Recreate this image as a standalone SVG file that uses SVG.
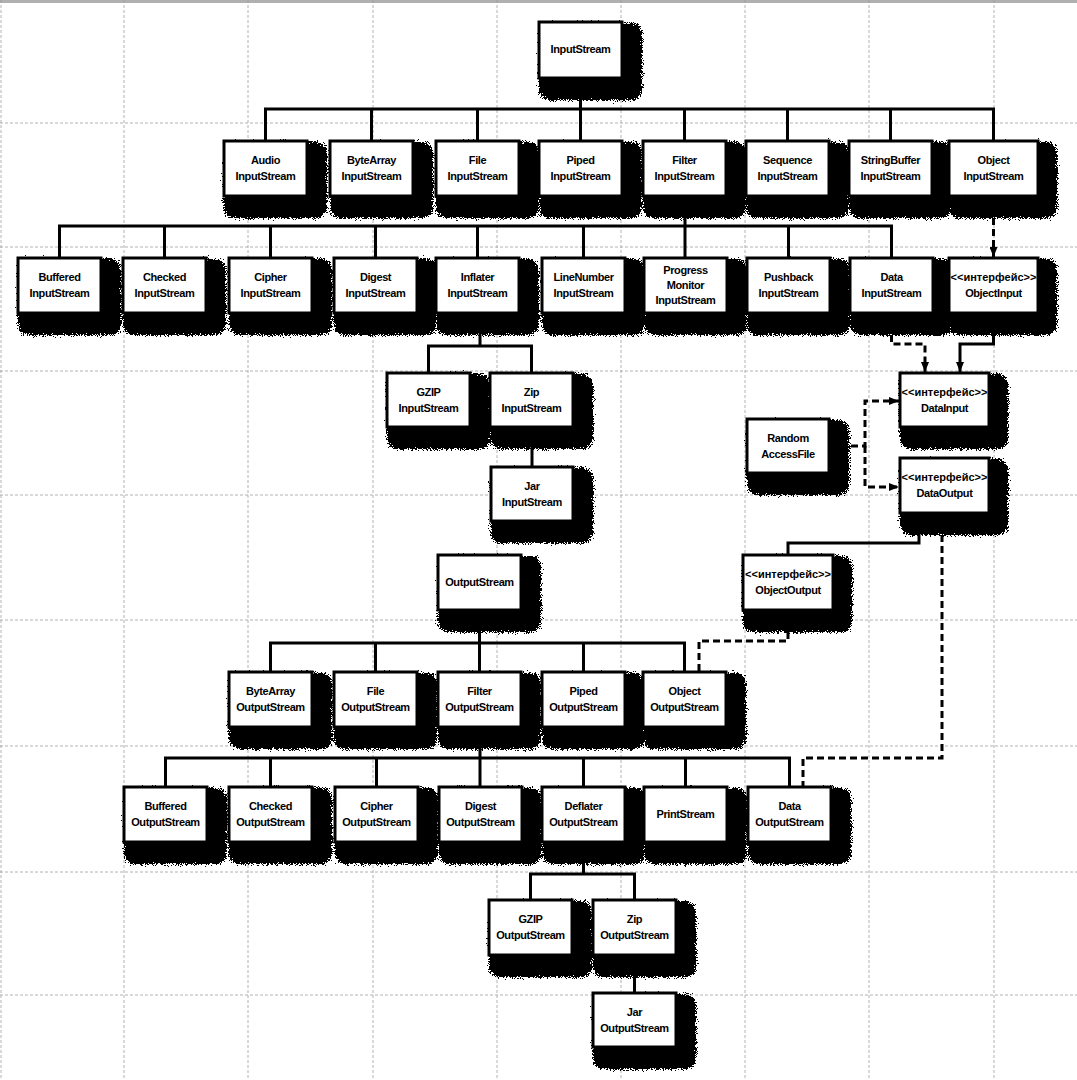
<svg xmlns="http://www.w3.org/2000/svg" width="1077" height="1080" viewBox="0 0 1077 1080">
<defs>
<filter id="sh" x="-40%" y="-40%" width="180%" height="180%">
<feGaussianBlur in="SourceGraphic" stdDeviation="5.5" result="b"/>
<feTurbulence type="fractalNoise" baseFrequency="1.4" numOctaves="1" seed="7" result="n"/>
<feColorMatrix in="n" type="matrix" values="0 0 0 0 0  0 0 0 0 0  0 0 0 0 0  1 0 0 0 0" result="na"/>
<feComposite in="b" in2="na" operator="arithmetic" k1="0" k2="1.5" k3="-1" k4="0.5" result="m"/>
<feColorMatrix in="m" type="matrix" values="0 0 0 0 0  0 0 0 0 0  0 0 0 0 0  0 0 0 1 0" result="k"/>
<feComponentTransfer in="k"><feFuncA type="discrete" tableValues="0 1"/></feComponentTransfer>
</filter>
<marker id="ah" viewBox="0 0 10 8" refX="10" refY="4" markerWidth="10" markerHeight="8" markerUnits="userSpaceOnUse" orient="auto">
<path d="M0,0 L10,4 L0,8 z" fill="#000"/>
</marker>
</defs>
<style>
.sh{fill:#000;filter:url(#sh);}
.bx{fill:#fff;stroke:#000;stroke-width:3;}
.t{font-family:"Liberation Sans",Arial,sans-serif;font-size:11px;font-weight:bold;letter-spacing:-0.4px;text-anchor:middle;fill:#000;}
.ti{letter-spacing:0px;}
.c{fill:none;stroke:#000;stroke-width:3;}
.d{stroke-dasharray:7 4;}
.a{marker-end:url(#ah);}
.g{stroke:#a0a0a0;stroke-width:0.8;stroke-dasharray:3 2;fill:none;}
</style>
<rect x="0" y="0" width="1077" height="1080" fill="#fff"/>
<rect x="0" y="0" width="1077" height="3" fill="#b0b0b0"/>
<g id="grid">
<path class="g" d="M1,0V1080M124,0V1080M248,0V1080M373,0V1080M497,0V1080M621,0V1080M745,0V1080M869,0V1080M994,0V1080"/>
<path class="g" d="M0,123H1077M0,247H1077M0,371H1077M0,495H1077M0,620H1077M0,746H1077M0,872H1077M0,995H1077"/>
</g>
<g id="connectors">
<path class="c" d="M265.5,141V109H993.5V141M371.5,109V141M477.5,109V141M580.5,78V141M684.5,109V141M787.5,109V141M890.5,109V141"/>
<path class="c" d="M59.5,258V226H891.5V258M164.5,226V258M270.5,226V258M375.5,226V258M477.5,226V258M583.5,226V258M685,196V258M788.5,226V258"/>
<path class="c" d="M480,313V346M428.5,373V346H531.5V373M532,427V467"/>
<path class="c" d="M479.5,610V672M270.5,672V643H684.5V672M375.5,643V672M583.5,643V672"/>
<path class="c" d="M480,727V787M165.5,787V758H789.5V787M270.5,758V787M376.5,758V787M583.5,758V787M685.5,758V787"/>
<path class="c" d="M583.5,842V874M530.5,900V874H634.5V900M634.5,955V993"/>
<path class="c a" d="M993.5,313V344H960V372"/>
<path class="c" d="M919,513V543H788V555"/>
<path class="c d a" d="M993.5,196V257"/>
<path class="c d a" d="M891.5,313V344H925V372"/>
<path class="c d a" d="M829,446H865V401H899"/>
<path class="c d a" d="M865,446V487H899"/>
<path class="c d" d="M942,513V758H803V787"/>
<path class="c d" d="M788,610V641H699V672"/>
</g>
<g id="InputStream"><rect class="sh" x="541" y="25" width="99" height="73"/><rect class="bx" x="539" y="22" width="83" height="56"/><text class="t" x="580.5" y="53">InputStream</text></g>
<g id="AudioInputStream"><rect class="sh" x="226" y="144" width="99" height="72"/><rect class="bx" x="224" y="141" width="83" height="55"/><text class="t" x="265.5" y="164">Audio</text><text class="t" x="265.5" y="180">InputStream</text></g>
<g id="ByteArrayInputStream"><rect class="sh" x="332" y="144" width="99" height="72"/><rect class="bx" x="330" y="141" width="83" height="55"/><text class="t" x="371.5" y="164">ByteArray</text><text class="t" x="371.5" y="180">InputStream</text></g>
<g id="FileInputStream"><rect class="sh" x="438" y="144" width="99" height="72"/><rect class="bx" x="436" y="141" width="83" height="55"/><text class="t" x="477.5" y="164">File</text><text class="t" x="477.5" y="180">InputStream</text></g>
<g id="PipedInputStream"><rect class="sh" x="541" y="144" width="99" height="72"/><rect class="bx" x="539" y="141" width="83" height="55"/><text class="t" x="580.5" y="164">Piped</text><text class="t" x="580.5" y="180">InputStream</text></g>
<g id="FilterInputStream"><rect class="sh" x="645" y="144" width="99" height="72"/><rect class="bx" x="643" y="141" width="83" height="55"/><text class="t" x="684.5" y="164">Filter</text><text class="t" x="684.5" y="180">InputStream</text></g>
<g id="SequenceInputStream"><rect class="sh" x="748" y="144" width="99" height="72"/><rect class="bx" x="746" y="141" width="83" height="55"/><text class="t" x="787.5" y="164">Sequence</text><text class="t" x="787.5" y="180">InputStream</text></g>
<g id="StringBufferInputStream"><rect class="sh" x="851" y="144" width="99" height="72"/><rect class="bx" x="849" y="141" width="83" height="55"/><text class="t" x="890.5" y="164">StringBuffer</text><text class="t" x="890.5" y="180">InputStream</text></g>
<g id="ObjectInputStream"><rect class="sh" x="951" y="144" width="104" height="72"/><rect class="bx" x="949" y="141" width="89" height="55"/><text class="t" x="993.5" y="164">Object</text><text class="t" x="993.5" y="180">InputStream</text></g>
<g id="BufferedInputStream"><rect class="sh" x="20" y="261" width="99" height="72"/><rect class="bx" x="18" y="258" width="83" height="55"/><text class="t" x="59.5" y="281">Buffered</text><text class="t" x="59.5" y="297">InputStream</text></g>
<g id="CheckedInputStream"><rect class="sh" x="125" y="261" width="99" height="72"/><rect class="bx" x="123" y="258" width="83" height="55"/><text class="t" x="164.5" y="281">Checked</text><text class="t" x="164.5" y="297">InputStream</text></g>
<g id="CipherInputStream"><rect class="sh" x="231" y="261" width="99" height="72"/><rect class="bx" x="229" y="258" width="83" height="55"/><text class="t" x="270.5" y="281">Cipher</text><text class="t" x="270.5" y="297">InputStream</text></g>
<g id="DigestInputStream"><rect class="sh" x="336" y="261" width="99" height="72"/><rect class="bx" x="334" y="258" width="83" height="55"/><text class="t" x="375.5" y="281">Digest</text><text class="t" x="375.5" y="297">InputStream</text></g>
<g id="InflaterInputStream"><rect class="sh" x="438" y="261" width="99" height="72"/><rect class="bx" x="436" y="258" width="83" height="55"/><text class="t" x="477.5" y="281">Inflater</text><text class="t" x="477.5" y="297">InputStream</text></g>
<g id="LineNumberInputStream"><rect class="sh" x="544" y="261" width="99" height="72"/><rect class="bx" x="542" y="258" width="83" height="55"/><text class="t" x="583.5" y="281">LineNumber</text><text class="t" x="583.5" y="297">InputStream</text></g>
<g id="ProgressMonitorInputStream"><rect class="sh" x="646" y="261" width="99" height="72"/><rect class="bx" x="644" y="258" width="83" height="55"/><text class="t" x="685.5" y="274">Progress</text><text class="t" x="685.5" y="289">Monitor</text><text class="t" x="685.5" y="304">InputStream</text></g>
<g id="PushbackInputStream"><rect class="sh" x="749" y="261" width="99" height="72"/><rect class="bx" x="747" y="258" width="83" height="55"/><text class="t" x="788.5" y="281">Pushback</text><text class="t" x="788.5" y="297">InputStream</text></g>
<g id="DataInputStream"><rect class="sh" x="852" y="261" width="99" height="72"/><rect class="bx" x="850" y="258" width="83" height="55"/><text class="t" x="891.5" y="281">Data</text><text class="t" x="891.5" y="297">InputStream</text></g>
<g id="ObjectInput"><rect class="sh" x="951" y="261" width="104" height="72"/><rect class="bx" x="949" y="258" width="89" height="55"/><text class="t ti" x="993.5" y="281">&lt;&lt;интерфейс&gt;&gt;</text><text class="t" x="993.5" y="297">ObjectInput</text></g>
<g id="GZIPInputStream"><rect class="sh" x="389" y="376" width="99" height="71"/><rect class="bx" x="387" y="373" width="83" height="54"/><text class="t" x="428.5" y="396">GZIP</text><text class="t" x="428.5" y="412">InputStream</text></g>
<g id="ZipInputStream"><rect class="sh" x="492" y="376" width="99" height="71"/><rect class="bx" x="490" y="373" width="83" height="54"/><text class="t" x="531.5" y="396">Zip</text><text class="t" x="531.5" y="412">InputStream</text></g>
<g id="JarInputStream"><rect class="sh" x="493" y="470" width="98" height="71"/><rect class="bx" x="491" y="467" width="82" height="54"/><text class="t" x="532" y="490">Jar</text><text class="t" x="532" y="506">InputStream</text></g>
<g id="DataInput"><rect class="sh" x="902" y="376" width="104" height="71"/><rect class="bx" x="900" y="373" width="89" height="54"/><text class="t ti" x="944.5" y="396">&lt;&lt;интерфейс&gt;&gt;</text><text class="t" x="944.5" y="412">DataInput</text></g>
<g id="RandomAccessFile"><rect class="sh" x="749" y="422" width="98" height="71"/><rect class="bx" x="747" y="419" width="82" height="54"/><text class="t" x="788" y="442">Random</text><text class="t" x="788" y="458">AccessFile</text></g>
<g id="DataOutput"><rect class="sh" x="902" y="461" width="104" height="72"/><rect class="bx" x="900" y="458" width="89" height="55"/><text class="t ti" x="944.5" y="481">&lt;&lt;интерфейс&gt;&gt;</text><text class="t" x="944.5" y="497">DataOutput</text></g>
<g id="ObjectOutput"><rect class="sh" x="745" y="558" width="105" height="72"/><rect class="bx" x="743" y="555" width="90" height="55"/><text class="t ti" x="788" y="578">&lt;&lt;интерфейс&gt;&gt;</text><text class="t" x="788" y="594">ObjectOutput</text></g>
<g id="OutputStream"><rect class="sh" x="440" y="558" width="99" height="72"/><rect class="bx" x="438" y="555" width="83" height="55"/><text class="t" x="479.5" y="586">OutputStream</text></g>
<g id="ByteArrayOutputStream"><rect class="sh" x="231" y="675" width="99" height="72"/><rect class="bx" x="229" y="672" width="83" height="55"/><text class="t" x="270.5" y="695">ByteArray</text><text class="t" x="270.5" y="711">OutputStream</text></g>
<g id="FileOutputStream"><rect class="sh" x="336" y="675" width="99" height="72"/><rect class="bx" x="334" y="672" width="83" height="55"/><text class="t" x="375.5" y="695">File</text><text class="t" x="375.5" y="711">OutputStream</text></g>
<g id="FilterOutputStream"><rect class="sh" x="440" y="675" width="99" height="72"/><rect class="bx" x="438" y="672" width="83" height="55"/><text class="t" x="479.5" y="695">Filter</text><text class="t" x="479.5" y="711">OutputStream</text></g>
<g id="PipedOutputStream"><rect class="sh" x="544" y="675" width="99" height="72"/><rect class="bx" x="542" y="672" width="83" height="55"/><text class="t" x="583.5" y="695">Piped</text><text class="t" x="583.5" y="711">OutputStream</text></g>
<g id="ObjectOutputStream"><rect class="sh" x="645" y="675" width="99" height="72"/><rect class="bx" x="643" y="672" width="83" height="55"/><text class="t" x="684.5" y="695">Object</text><text class="t" x="684.5" y="711">OutputStream</text></g>
<g id="BufferedOutputStream"><rect class="sh" x="126" y="790" width="99" height="72"/><rect class="bx" x="124" y="787" width="83" height="55"/><text class="t" x="165.5" y="810">Buffered</text><text class="t" x="165.5" y="826">OutputStream</text></g>
<g id="CheckedOutputStream"><rect class="sh" x="231" y="790" width="99" height="72"/><rect class="bx" x="229" y="787" width="83" height="55"/><text class="t" x="270.5" y="810">Checked</text><text class="t" x="270.5" y="826">OutputStream</text></g>
<g id="CipherOutputStream"><rect class="sh" x="337" y="790" width="99" height="72"/><rect class="bx" x="335" y="787" width="83" height="55"/><text class="t" x="376.5" y="810">Cipher</text><text class="t" x="376.5" y="826">OutputStream</text></g>
<g id="DigestOutputStream"><rect class="sh" x="441" y="790" width="99" height="72"/><rect class="bx" x="439" y="787" width="83" height="55"/><text class="t" x="480.5" y="810">Digest</text><text class="t" x="480.5" y="826">OutputStream</text></g>
<g id="DeflaterOutputStream"><rect class="sh" x="544" y="790" width="99" height="72"/><rect class="bx" x="542" y="787" width="83" height="55"/><text class="t" x="583.5" y="810">Deflater</text><text class="t" x="583.5" y="826">OutputStream</text></g>
<g id="PrintStream"><rect class="sh" x="646" y="790" width="99" height="72"/><rect class="bx" x="644" y="787" width="83" height="55"/><text class="t" x="685.5" y="817.5">PrintStream</text></g>
<g id="DataOutputStream"><rect class="sh" x="750" y="790" width="99" height="72"/><rect class="bx" x="748" y="787" width="83" height="55"/><text class="t" x="789.5" y="810">Data</text><text class="t" x="789.5" y="826">OutputStream</text></g>
<g id="GZIPOutputStream"><rect class="sh" x="491" y="903" width="99" height="72"/><rect class="bx" x="489" y="900" width="83" height="55"/><text class="t" x="530.5" y="923">GZIP</text><text class="t" x="530.5" y="939">OutputStream</text></g>
<g id="ZipOutputStream"><rect class="sh" x="595" y="903" width="99" height="72"/><rect class="bx" x="593" y="900" width="83" height="55"/><text class="t" x="634.5" y="923">Zip</text><text class="t" x="634.5" y="939">OutputStream</text></g>
<g id="JarOutputStream"><rect class="sh" x="595" y="996" width="99" height="71"/><rect class="bx" x="593" y="993" width="83" height="54"/><text class="t" x="634.5" y="1016">Jar</text><text class="t" x="634.5" y="1032">OutputStream</text></g>
</svg>
